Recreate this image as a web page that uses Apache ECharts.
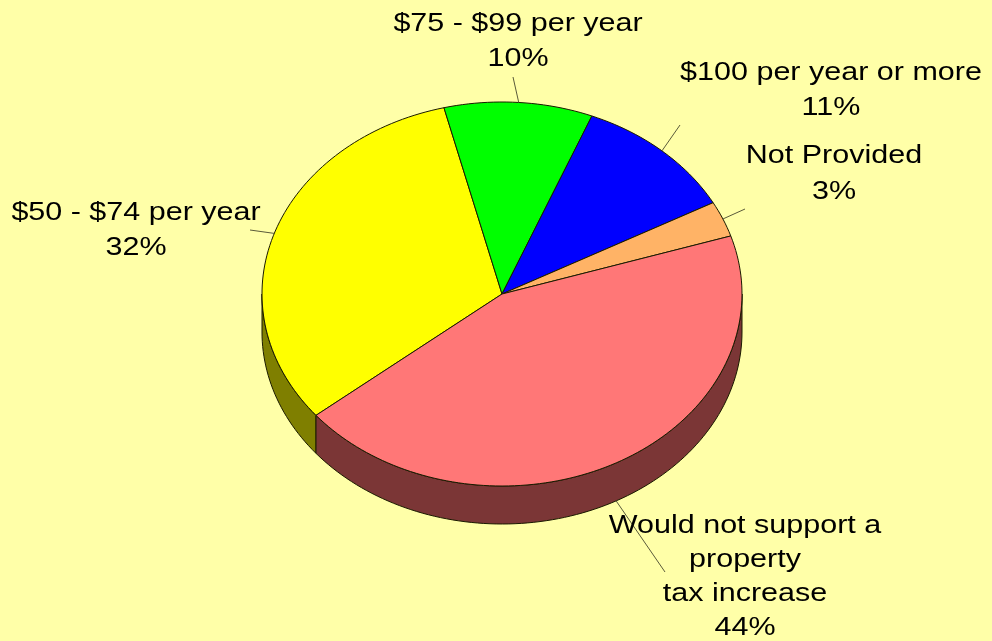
<!DOCTYPE html>
<html>
<head>
<meta charset="utf-8">
<script src="https://cdn.jsdelivr.net/npm/echarts@6/dist/echarts.min.js"></script>
<style>
  html, body { margin: 0; padding: 0; background: #FFFFA8; }
  #chart { width: 992px; height: 641px; }
</style>
</head>
<body>
<div id="chart"></div>
<script>
// Survey answers: annual amount residents would support
const categories = [
  '$50 - $74 per year',
  '$75 - $99 per year',
  '$100 per year or more',
  'Not Provided',
  'Would not support a\nproperty\ntax increase'
];
const values = [32, 10, 11, 3, 44];

// Slice colours (top face / darker side wall)
const topColors = ['#FFFF00', '#00FF00', '#0000FF', '#FFB366', '#FF7777'];
const sideColors = ['#7F7F00', '#007F00', '#00007F', '#7F5933', '#7B3636'];

// Tilted pie geometry: ellipse centre, radii, wall depth, first slice angle (clockwise from 12 o'clock)
const pie = { cx: 502, cy: 294, rx: 240, ry: 192, depth: 38, startAngle: 230.8 };

// Label anchor (block centre) and where each leader line ends
const labelLayout = [
  { x: 136, y: 231, lineHeight: 35, end: [250, 230] },
  { x: 518, y: 42,  lineHeight: 35, end: [513, 77] },
  { x: 831, y: 91,  lineHeight: 35, end: [680, 125] },
  { x: 834, y: 174, lineHeight: 36, end: [745, 209] },
  { x: 745, y: 577, lineHeight: 34, end: [665, 572] }
];

const total = values.reduce((a, b) => a + b, 0);
const starts = [];
values.reduce((acc, v) => { starts.push(acc); return acc + v; }, 0);

function ellipsePoint(deg, dy) {
  const r = deg * Math.PI / 180;
  return [pie.cx + pie.rx * Math.sin(r), pie.cy - pie.ry * Math.cos(r) + (dy || 0)];
}

function arc(a0, a1, dy) {
  const n = Math.max(2, Math.ceil(Math.abs(a1 - a0) / 1.5));
  const pts = [];
  for (let k = 0; k <= n; k++) pts.push(ellipsePoint(a0 + (a1 - a0) * k / n, dy));
  return pts;
}

function renderItem(params, api) {
  const i = params.dataIndex;
  const v = api.value(0);
  const a0 = pie.startAngle + starts[i] / total * 360;
  const a1 = a0 + v / total * 360;
  const children = [];

  // side wall: only the part of the rim that faces the viewer (90..270 deg)
  for (let k = -1; k <= 2; k++) {
    const lo = Math.max(a0, 90 + 360 * k);
    const hi = Math.min(a1, 270 + 360 * k);
    if (hi > lo) {
      const pts = arc(lo, hi, 0).concat(arc(hi, lo, pie.depth));
      children.push({
        type: 'polygon',
        shape: { points: pts },
        style: { fill: sideColors[i], stroke: '#1a1a00', lineWidth: 1 },
        z2: 1
      });
    }
  }

  // top face
  children.push({
    type: 'polygon',
    shape: { points: [[pie.cx, pie.cy]].concat(arc(a0, a1, 0)) },
    style: { fill: topColors[i], stroke: '#1a1a00', lineWidth: 1 },
    z2: 2
  });

  // leader line from the slice rim to its label
  const mid = (a0 + a1) / 2;
  const front = Math.cos(mid * Math.PI / 180) < 0;
  const p0 = ellipsePoint(mid, front ? pie.depth : 0);
  const lay = labelLayout[i];
  children.push({
    type: 'line',
    shape: { x1: p0[0], y1: p0[1], x2: lay.end[0], y2: lay.end[1] },
    style: { stroke: '#5a5a3a', lineWidth: 1 },
    z2: 3
  });

  // label: category and share
  const pct = Math.round(v / total * 100) + '%';
  children.push({
    type: 'text',
    x: lay.x,
    y: lay.y,
    scaleX: 1.22,
    scaleY: 1,
    style: {
      text: categories[i] + '\n' + pct,
      fontFamily: '"Liberation Sans", Arial, sans-serif',
      fontSize: 25,
      lineHeight: lay.lineHeight,
      fill: '#000000',
      align: 'center',
      verticalAlign: 'middle'
    },
    z2: 4
  });

  return { type: 'group', children: children };
}

const chart = echarts.init(document.getElementById('chart'), null, { renderer: 'canvas' });
chart.setOption({
  backgroundColor: '#FFFFA8',
  animation: false,
  series: [{
    type: 'custom',
    coordinateSystem: 'none',
    silent: true,
    data: values.map(v => [v]),
    renderItem: renderItem
  }]
});
</script>
</body>
</html>
